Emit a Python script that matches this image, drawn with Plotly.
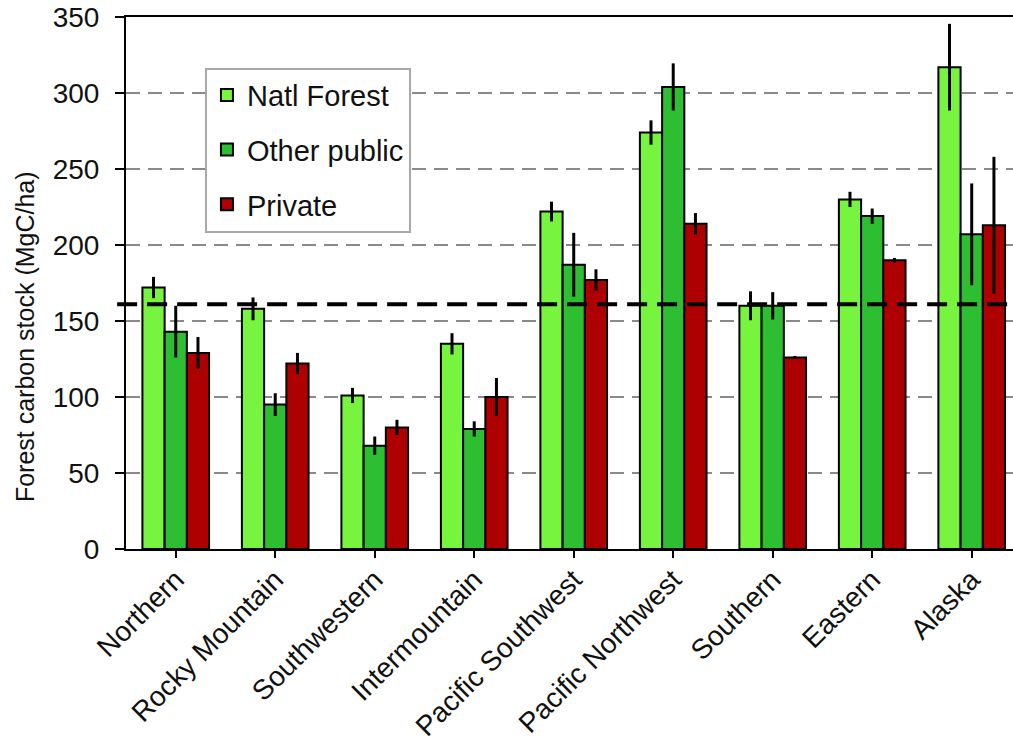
import plotly.graph_objects as go

# Forest carbon stock by Forest Service region and ownership (MgC/ha)
regions = ["Northern", "Rocky Mountain", "Southwestern", "Intermountain",
           "Pacific Southwest", "Pacific Northwest", "Southern", "Eastern", "Alaska"]

natl_forest = [172, 158, 101, 135, 222, 274, 160, 230, 317]
natl_forest_err = [7, 7.5, 5, 7, 6.5, 8, 9.5, 5, 28.5]

other_public = [143, 95, 68, 79, 187, 304, 160, 219, 207]
other_public_err = [17, 7.5, 6, 5, 21, 15.5, 9, 5, 33.5]

private = [129, 122, 80, 100, 177, 214, 126, 190, 213]
private_err = [10.5, 7, 5, 12.5, 7, 7, 1, 1.5, 45]

national_mean = 161

y_ticks = [0, 50, 100, 150, 200, 250, 300, 350]

FONT = "Liberation Sans, Arial, Helvetica, sans-serif"
TEXT = "#111111"

series = [
    ("Natl Forest", natl_forest, natl_forest_err, "#77F43E"),
    ("Other public", other_public, other_public_err, "#2EBE32"),
    ("Private", private, private_err, "#AE0000"),
]

fig = go.Figure()
for name, vals, errs, color in series:
    fig.add_trace(go.Bar(
        name=name,
        x=regions,
        y=vals,
        legendgroup=name,
        marker=dict(color=color, line=dict(color="#000000", width=2)),
        error_y=dict(type="data", array=errs, visible=True,
                     color="#000000", thickness=3, width=0),
    ))

# dashed gridlines behind the bars
for v in y_ticks[1:-1]:
    fig.add_shape(type="line", xref="paper", yref="y", x0=0, x1=1, y0=v, y1=v,
                  line=dict(color="#8a8a8a", width=2, dash="14px,8px"), layer="below")

# national average reference line above the bars
fig.add_shape(type="line", xref="paper", yref="y", x0=-0.01, x1=1,
              y0=national_mean, y1=national_mean,
              line=dict(color="#000000", width=4, dash="20px,10px"), layer="above")

# y-axis title, placed as a rotated annotation
fig.add_annotation(
    text="Forest carbon stock (MgC/ha)",
    xref="paper", yref="paper", x=-0.114, y=0.40,
    xanchor="center", yanchor="middle", textangle=-90, showarrow=False,
    font=dict(family=FONT, size=25, color=TEXT),
)

fig.update_layout(
    width=1013, height=752,
    margin=dict(l=126, r=0, t=17, b=203, autoexpand=False),
    paper_bgcolor="white", plot_bgcolor="white",
    font=dict(family=FONT, color=TEXT, size=28),
    barmode="group", bargap=0.33, bargroupgap=0,
    showlegend=True,
    legend=dict(
        x=0.089, y=0.905, xanchor="left", yanchor="top",
        bgcolor="white", bordercolor="#a8a8a8", borderwidth=2,
        font=dict(family=FONT, size=29, color=TEXT),
        tracegroupgap=14, itemclick=False,
    ),
)

fig.update_xaxes(
    range=[-0.5, 8.415], automargin=False,
    showline=True, linecolor="#000000", linewidth=2, mirror=True,
    ticks="outside", ticklen=7, tickwidth=2, tickcolor="#000000",
    tickangle=-45, tickfont=dict(family=FONT, size=28, color=TEXT),
    ticklabelstandoff=-6,
    showgrid=False, zeroline=False,
)

fig.update_yaxes(
    range=[0, 350], tickvals=y_ticks, automargin=False,
    showline=True, linecolor="#000000", linewidth=2,
    ticks="outside", ticklen=9, tickwidth=2, tickcolor="#000000",
    tickfont=dict(family=FONT, size=28, color=TEXT),
    ticklabelstandoff=10,
    showgrid=False, zeroline=False,
)

fig.write_html("out.html")
